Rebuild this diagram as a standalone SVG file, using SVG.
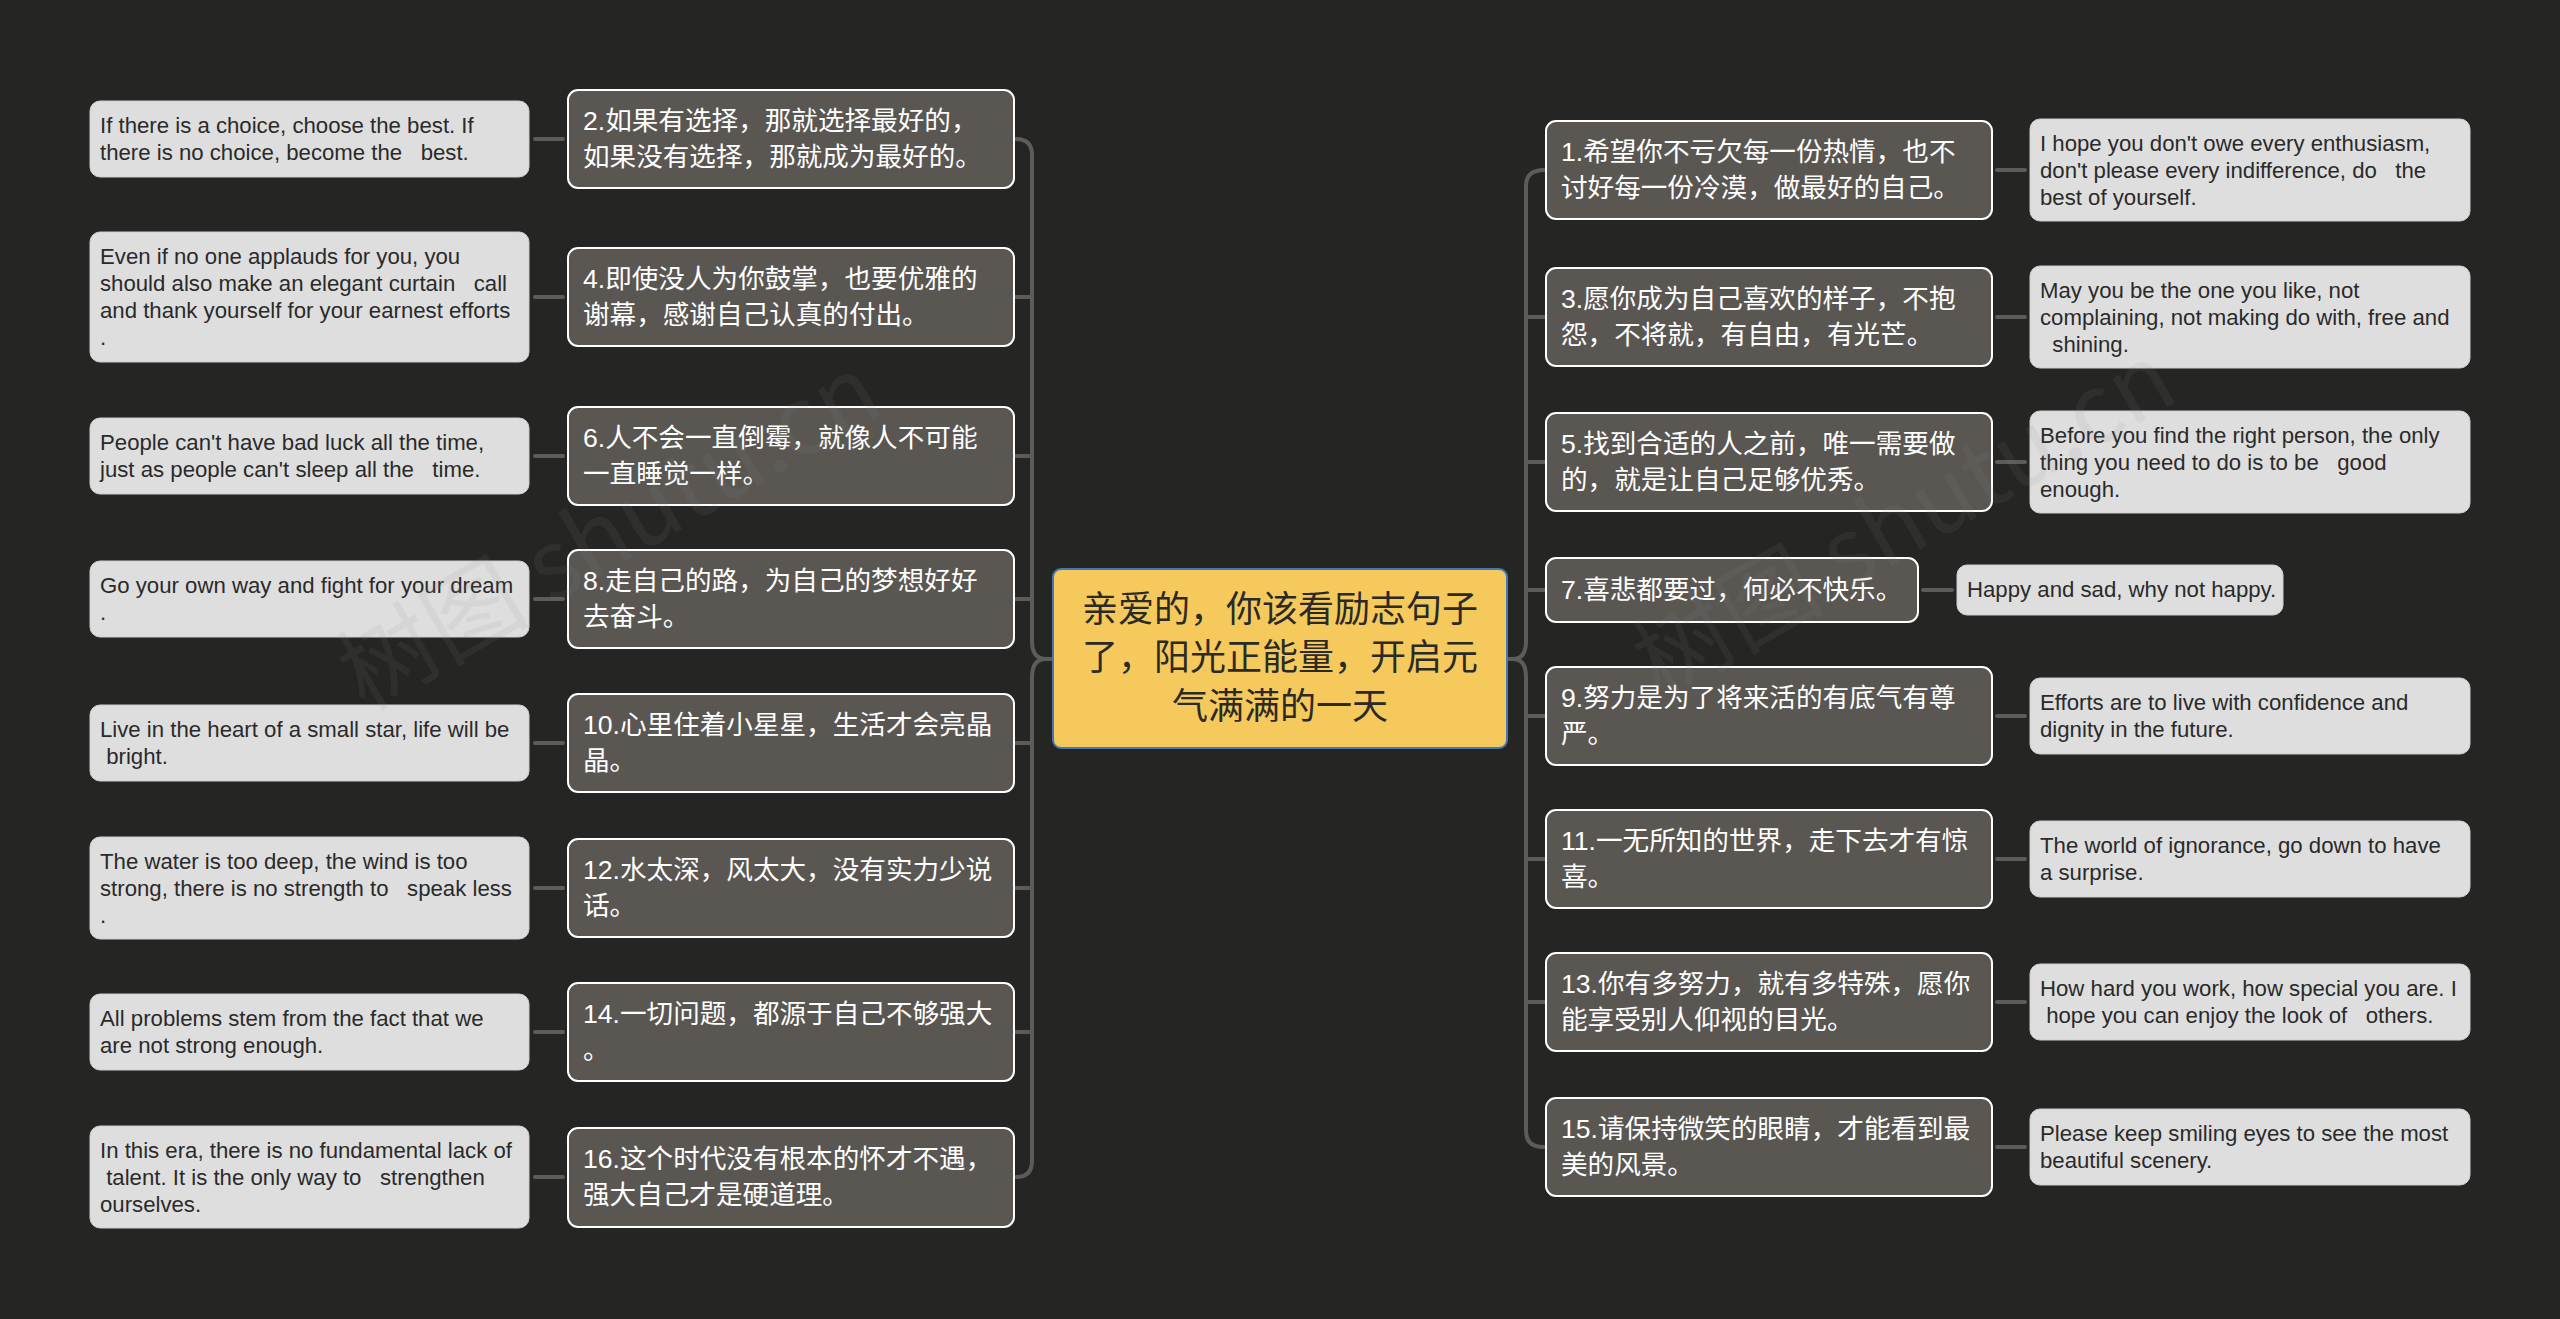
<svg xmlns="http://www.w3.org/2000/svg" width="2560" height="1319" viewBox="0 0 2560 1319">
<style>
.bg{fill:#252524}
.n1{fill:#5a5753;stroke:#ffffff;stroke-width:2}
.n2{fill:#dedede;stroke:#cfcfcf;stroke-width:1}
.root{fill:#f5c95b;stroke:#4676b4;stroke-width:2}
.t1{font-family:"Liberation Sans","Noto Sans CJK SC",sans-serif;font-size:26.6px;fill:#ffffff}
.t2{font-family:"Liberation Sans","Noto Sans CJK SC",sans-serif;font-size:22.2px;fill:#2a2a2a}
.t0{font-family:"Noto Sans CJK SC",sans-serif;font-size:36px;fill:#2b2a26;text-anchor:middle}
.c{fill:none;stroke:#5e5c59;stroke-width:4;stroke-linecap:round}
.wm{font-family:"Noto Sans CJK SC",sans-serif;font-size:96px;fill:#8a8a8a;fill-opacity:0.1}
</style>
<rect class="bg" x="0" y="0" width="2560" height="1319"/>
<g id="connectors">
<path class="c" d="M1016,139 Q1032,139 1032,155 L1032,641 Q1032,659 1046,659 Q1032,659 1032,677 L1032,1161 Q1032,1177 1016,1177"/>
<path class="c" d="M1046,659 L1053,659"/>
<path class="c" d="M1015,297 H1032 M1015,456 H1032 M1015,599 H1032 M1015,743 H1032 M1015,888 H1032 M1015,1032 H1032"/>
<path class="c" d="M1544,170 Q1526,170 1526,186 L1526,641 Q1526,659 1513,659 Q1526,659 1526,677 L1526,1131 Q1526,1147 1544,1147"/>
<path class="c" d="M1507,659 L1513,659"/>
<path class="c" d="M1526,317 H1545 M1526,462 H1545 M1526,590 H1545 M1526,716 H1545 M1526,859 H1545 M1526,1002 H1545"/>
<path class="c" d="M535,139 H563 M535,297 H563 M535,456 H563 M535,599 H563 M535,743 H563 M535,888 H563 M535,1032 H563 M535,1177 H563"/>
<path class="c" d="M1997,170 H2025 M1997,317 H2025 M1997,462 H2025 M1923,590 H1952 M1997,716 H2025 M1997,859 H2025 M1997,1002 H2025 M1997,1147 H2025"/>
</g>
<g id="root">
<rect class="root" x="1053" y="569" width="454" height="179" rx="8"/>
<text class="t0" x="1280" y="622">亲爱的，你该看励志句子</text>
<text class="t0" x="1280" y="670">了，阳光正能量，开启元</text>
<text class="t0" x="1280" y="719">气满满的一天</text>
</g>
<g id="n2"><rect class="n1" x="568" y="90" width="446" height="98" rx="10"/><text class="t1" x="583" y="130">2.如果有选择，那就选择最好的，</text><text class="t1" x="583" y="166">如果没有选择，那就成为最好的。</text></g>
<g id="n2c"><rect class="n2" x="90" y="101" width="439" height="76" rx="10"/><text class="t2" x="100" y="133" xml:space="preserve">If there is a choice, choose the best. If</text><text class="t2" x="100" y="160" xml:space="preserve">there is no choice, become the   best.</text></g>
<g id="n4"><rect class="n1" x="568" y="248" width="446" height="98" rx="10"/><text class="t1" x="583" y="288">4.即使没人为你鼓掌，也要优雅的</text><text class="t1" x="583" y="324">谢幕，感谢自己认真的付出。</text></g>
<g id="n4c"><rect class="n2" x="90" y="232" width="439" height="130" rx="10"/><text class="t2" x="100" y="264" xml:space="preserve">Even if no one applauds for you, you</text><text class="t2" x="100" y="291" xml:space="preserve">should also make an elegant curtain   call</text><text class="t2" x="100" y="318" xml:space="preserve">and thank yourself for your earnest efforts</text><text class="t2" x="100" y="345">.</text></g>
<g id="n6"><rect class="n1" x="568" y="407" width="446" height="98" rx="10"/><text class="t1" x="583" y="447">6.人不会一直倒霉，就像人不可能</text><text class="t1" x="583" y="483">一直睡觉一样。</text></g>
<g id="n6c"><rect class="n2" x="90" y="418" width="439" height="76" rx="10"/><text class="t2" x="100" y="450" xml:space="preserve">People can't have bad luck all the time,</text><text class="t2" x="100" y="477" xml:space="preserve">just as people can't sleep all the   time.</text></g>
<g id="n8"><rect class="n1" x="568" y="550" width="446" height="98" rx="10"/><text class="t1" x="583" y="590">8.走自己的路，为自己的梦想好好</text><text class="t1" x="583" y="626">去奋斗。</text></g>
<g id="n8c"><rect class="n2" x="90" y="561" width="439" height="76" rx="10"/><text class="t2" x="100" y="593">Go your own way and fight for your dream</text><text class="t2" x="100" y="620">.</text></g>
<g id="n10"><rect class="n1" x="568" y="694" width="446" height="98" rx="10"/><text class="t1" x="583" y="734">10.心里住着小星星，生活才会亮晶</text><text class="t1" x="583" y="770">晶。</text></g>
<g id="n10c"><rect class="n2" x="90" y="705" width="439" height="76" rx="10"/><text class="t2" x="100" y="737">Live in the heart of a small star, life will be</text><text class="t2" x="100" y="764" xml:space="preserve"> bright.</text></g>
<g id="n12"><rect class="n1" x="568" y="839" width="446" height="98" rx="10"/><text class="t1" x="583" y="879">12.水太深，风太大，没有实力少说</text><text class="t1" x="583" y="915">话。</text></g>
<g id="n12c"><rect class="n2" x="90" y="837" width="439" height="102" rx="10"/><text class="t2" x="100" y="869">The water is too deep, the wind is too</text><text class="t2" x="100" y="896" xml:space="preserve">strong, there is no strength to   speak less</text><text class="t2" x="100" y="923">.</text></g>
<g id="n14"><rect class="n1" x="568" y="983" width="446" height="98" rx="10"/><text class="t1" x="583" y="1023">14.一切问题，都源于自己不够强大</text><text class="t1" x="583" y="1059">。</text></g>
<g id="n14c"><rect class="n2" x="90" y="994" width="439" height="76" rx="10"/><text class="t2" x="100" y="1026">All problems stem from the fact that we</text><text class="t2" x="100" y="1053">are not strong enough.</text></g>
<g id="n16"><rect class="n1" x="568" y="1128" width="446" height="99" rx="10"/><text class="t1" x="583" y="1168">16.这个时代没有根本的怀才不遇，</text><text class="t1" x="583" y="1204">强大自己才是硬道理。</text></g>
<g id="n16c"><rect class="n2" x="90" y="1126" width="439" height="102" rx="10"/><text class="t2" x="100" y="1158">In this era, there is no fundamental lack of</text><text class="t2" x="100" y="1185" xml:space="preserve"> talent. It is the only way to   strengthen</text><text class="t2" x="100" y="1212">ourselves.</text></g>
<g id="n1"><rect class="n1" x="1546" y="121" width="446" height="98" rx="10"/><text class="t1" x="1561" y="161">1.希望你不亏欠每一份热情，也不</text><text class="t1" x="1561" y="197">讨好每一份冷漠，做最好的自己。</text></g>
<g id="n1c"><rect class="n2" x="2030" y="119" width="440" height="102" rx="10"/><text class="t2" x="2040" y="151">I hope you don't owe every enthusiasm,</text><text class="t2" x="2040" y="178" xml:space="preserve">don't please every indifference, do   the</text><text class="t2" x="2040" y="205">best of yourself.</text></g>
<g id="n3"><rect class="n1" x="1546" y="268" width="446" height="98" rx="10"/><text class="t1" x="1561" y="308">3.愿你成为自己喜欢的样子，不抱</text><text class="t1" x="1561" y="344">怨，不将就，有自由，有光芒。</text></g>
<g id="n3c"><rect class="n2" x="2030" y="266" width="440" height="102" rx="10"/><text class="t2" x="2040" y="298">May you be the one you like, not</text><text class="t2" x="2040" y="325">complaining, not making do with, free and</text><text class="t2" x="2040" y="352" xml:space="preserve">  shining.</text></g>
<g id="n5"><rect class="n1" x="1546" y="413" width="446" height="98" rx="10"/><text class="t1" x="1561" y="453">5.找到合适的人之前，唯一需要做</text><text class="t1" x="1561" y="489">的，就是让自己足够优秀。</text></g>
<g id="n5c"><rect class="n2" x="2030" y="411" width="440" height="102" rx="10"/><text class="t2" x="2040" y="443">Before you find the right person, the only</text><text class="t2" x="2040" y="470" xml:space="preserve">thing you need to do is to be   good</text><text class="t2" x="2040" y="497">enough.</text></g>
<g id="n7"><rect class="n1" x="1546" y="558" width="372" height="64" rx="10"/><text class="t1" x="1561" y="599">7.喜悲都要过，何必不快乐。</text></g>
<g id="n7c"><rect class="n2" x="1957" y="565" width="326" height="50" rx="10"/><text class="t2" x="1967" y="597">Happy and sad, why not happy.</text></g>
<g id="n9"><rect class="n1" x="1546" y="667" width="446" height="98" rx="10"/><text class="t1" x="1561" y="707">9.努力是为了将来活的有底气有尊</text><text class="t1" x="1561" y="743">严。</text></g>
<g id="n9c"><rect class="n2" x="2030" y="678" width="440" height="76" rx="10"/><text class="t2" x="2040" y="710">Efforts are to live with confidence and</text><text class="t2" x="2040" y="737">dignity in the future.</text></g>
<g id="n11"><rect class="n1" x="1546" y="810" width="446" height="98" rx="10"/><text class="t1" x="1561" y="850">11.一无所知的世界，走下去才有惊</text><text class="t1" x="1561" y="886">喜。</text></g>
<g id="n11c"><rect class="n2" x="2030" y="821" width="440" height="76" rx="10"/><text class="t2" x="2040" y="853">The world of ignorance, go down to have</text><text class="t2" x="2040" y="880">a surprise.</text></g>
<g id="n13"><rect class="n1" x="1546" y="953" width="446" height="98" rx="10"/><text class="t1" x="1561" y="993">13.你有多努力，就有多特殊，愿你</text><text class="t1" x="1561" y="1029">能享受别人仰视的目光。</text></g>
<g id="n13c"><rect class="n2" x="2030" y="964" width="440" height="76" rx="10"/><text class="t2" x="2040" y="996">How hard you work, how special you are. I</text><text class="t2" x="2040" y="1023" xml:space="preserve"> hope you can enjoy the look of   others.</text></g>
<g id="n15"><rect class="n1" x="1546" y="1098" width="446" height="98" rx="10"/><text class="t1" x="1561" y="1138">15.请保持微笑的眼睛，才能看到最</text><text class="t1" x="1561" y="1174">美的风景。</text></g>
<g id="n15c"><rect class="n2" x="2030" y="1109" width="440" height="76" rx="10"/><text class="t2" x="2040" y="1141">Please keep smiling eyes to see the most</text><text class="t2" x="2040" y="1168">beautiful scenery.</text></g>
<g id="watermark">
<text class="wm" x="365" y="712" transform="rotate(-30 365 712)">树图 shutu.cn</text>
<text class="wm" x="1660" y="700" transform="rotate(-30 1660 700)">树图 shutu.cn</text>
</g>
</svg>
